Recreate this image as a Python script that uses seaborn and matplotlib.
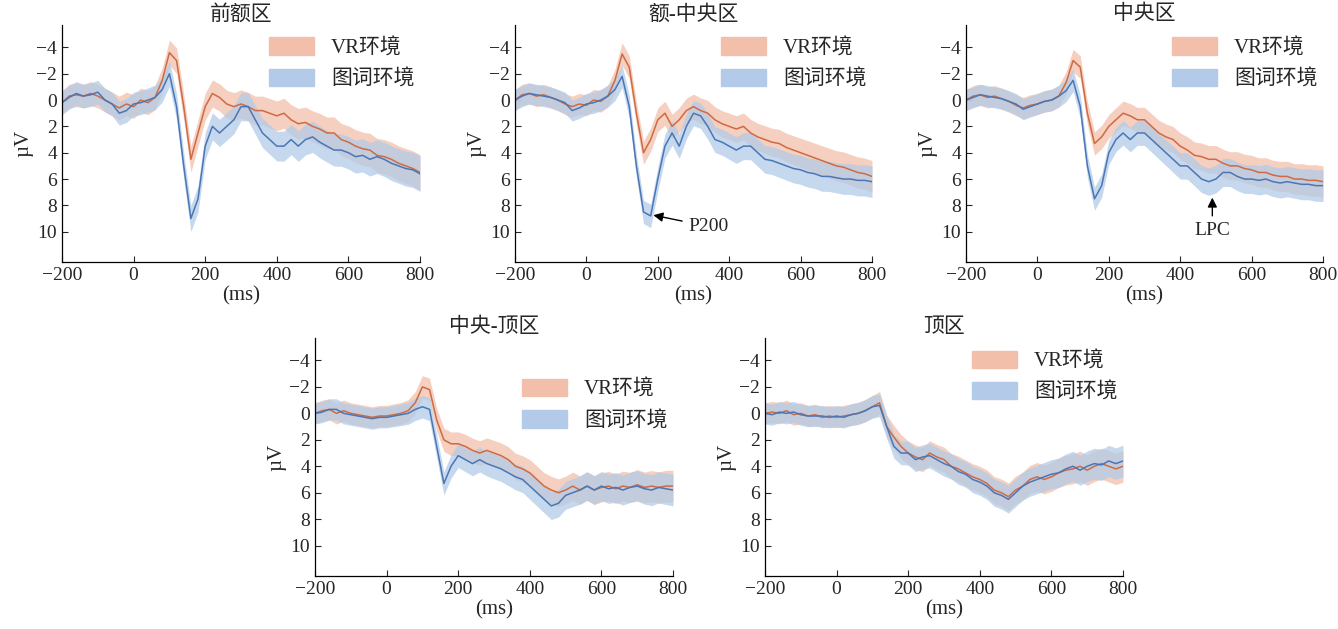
import matplotlib.pyplot as plt
import seaborn as sns
import numpy as np
import pandas as pd
from matplotlib.patches import Patch

sns.set_style("white")
plt.rcParams['font.family'] = ['Liberation Serif', 'Noto Sans CJK SC']
plt.rcParams['axes.unicode_minus'] = True

# time points (ms), every 20 ms
time_ms = list(range(-200, 801, 20))

# amplitudes in µV
fz_vr = [0.2, -0.3, -0.4, -0.3, -0.5, -0.3, 0.0, 0.3, 0.6, 0.3, 0.5, 0.0, 0.2, -0.2, -1.5, -3.6, -3.0, 0.5, 4.5, 2.5,
         0.5, -0.5, -0.2, 0.3, 0.5, 0.3, 0.5, 0.8, 0.8, 1.0, 1.2, 1.0, 1.5, 1.8, 1.7, 2.0, 2.2, 2.5, 2.5, 3.0,
         3.2, 3.5, 3.7, 3.8, 4.2, 4.3, 4.5, 4.8, 5.0, 5.2, 5.5]
fz_word = [0.2, -0.2, -0.5, -0.3, -0.4, -0.6, 0.0, 0.3, 1.0, 0.8, 0.3, 0.2, 0.0, -0.2, -0.8, -2.0, 0.5, 5.0, 9.0, 7.5,
           3.5, 2.0, 2.5, 2.0, 1.5, 0.5, 0.5, 1.5, 2.5, 3.0, 3.5, 3.5, 3.0, 3.5, 3.0, 2.8, 3.2, 3.5, 3.8, 3.8,
           4.0, 4.3, 4.2, 4.5, 4.3, 4.5, 4.8, 5.0, 5.2, 5.3, 5.6]
fcz_vr = [0.0, -0.4, -0.5, -0.3, -0.4, -0.2, 0.0, 0.3, 0.5, 0.3, 0.4, 0.0, 0.1, -0.3, -1.5, -3.5, -2.5, 1.0, 4.0, 3.0,
          1.5, 1.0, 2.0, 1.5, 0.8, 0.5, 0.8, 1.0, 1.5, 1.8, 2.0, 2.2, 2.0, 2.5, 2.8, 3.0, 3.2, 3.3, 3.6, 3.8,
          4.0, 4.2, 4.4, 4.6, 4.8, 5.0, 5.1, 5.3, 5.5, 5.6, 5.8]
fcz_word = [0.0, -0.3, -0.5, -0.4, -0.3, -0.2, 0.0, 0.2, 0.8, 0.6, 0.3, 0.2, 0.0, -0.3, -0.8, -1.8, 0.5, 5.0, 8.5, 8.8,
            6.0, 3.5, 2.5, 3.5, 2.0, 1.0, 1.2, 2.0, 3.0, 3.2, 3.5, 3.8, 3.5, 3.5, 4.0, 4.5, 4.6, 4.8, 5.0, 5.2,
            5.3, 5.5, 5.6, 5.8, 5.8, 5.9, 6.0, 6.0, 6.1, 6.1, 6.2]
cz_vr = [0.0, -0.3, -0.4, -0.2, -0.3, -0.1, 0.1, 0.4, 0.6, 0.4, 0.3, 0.1, 0.0, -0.3, -1.3, -3.0, -2.5, 1.0, 3.3, 2.8,
         2.0, 1.5, 1.0, 1.2, 1.5, 1.5, 2.0, 2.5, 2.8, 3.0, 3.5, 3.8, 4.2, 4.3, 4.5, 4.5, 4.8, 5.0, 5.0, 5.2,
         5.3, 5.5, 5.5, 5.7, 5.8, 5.8, 6.0, 6.0, 6.1, 6.1, 6.2]
cz_word = [0.0, -0.2, -0.4, -0.3, -0.2, -0.1, 0.1, 0.3, 0.7, 0.5, 0.3, 0.1, 0.0, -0.3, -0.7, -1.5, 0.5, 5.0, 7.5, 6.5,
           4.0, 3.0, 2.5, 3.0, 2.5, 2.5, 3.0, 3.5, 4.0, 4.5, 5.0, 5.0, 5.5, 6.0, 6.2, 6.0, 5.5, 5.5, 5.8, 6.0,
           6.0, 6.1, 6.0, 6.2, 6.3, 6.2, 6.3, 6.4, 6.4, 6.5, 6.5]
cpz_vr = [0.0, -0.2, -0.3, 0.0, -0.2, 0.0, 0.1, 0.2, 0.3, 0.2, 0.2, 0.1, 0.0, -0.2, -0.8, -2.0, -1.8, 0.5, 2.0, 2.3,
          2.3, 2.5, 2.8, 3.0, 2.8, 3.0, 3.2, 3.5, 4.0, 4.2, 4.5, 5.0, 5.5, 5.8, 6.0, 5.8, 5.5, 5.8, 5.5, 5.8,
          5.6, 5.5, 5.7, 5.5, 5.6, 5.4, 5.6, 5.5, 5.6, 5.5, 5.5]
cpz_word = [0.0, -0.1, -0.3, -0.3, 0.0, 0.1, 0.2, 0.3, 0.4, 0.3, 0.3, 0.2, 0.1, 0.0, -0.3, -0.5, -0.3, 2.5, 5.3, 4.0,
            3.2, 3.5, 3.8, 3.5, 3.8, 4.0, 4.2, 4.5, 4.8, 5.0, 5.5, 6.0, 6.5, 7.0, 6.8, 6.2, 6.0, 5.8, 5.5, 5.8,
            5.5, 5.7, 5.6, 5.8, 5.6, 5.5, 5.7, 5.8, 5.6, 5.7, 5.8]
pz_vr = [0.0, -0.1, 0.0, -0.2, 0.1, 0.0, 0.2, 0.1, 0.3, 0.2, 0.3, 0.2, 0.1, 0.0, -0.2, -0.5, -0.8, 1.0, 1.8, 2.5,
         3.0, 3.3, 3.5, 3.0, 3.3, 3.5, 4.0, 4.2, 4.5, 4.8, 5.0, 5.3, 5.8, 6.0, 6.3, 5.8, 5.5, 5.0, 4.8, 5.0,
         4.8, 4.5, 4.3, 4.2, 4.0, 4.3, 4.0, 3.8, 4.0, 4.2, 4.0]
pz_word = [0.0, 0.1, -0.1, 0.0, -0.1, 0.1, 0.2, 0.2, 0.2, 0.3, 0.2, 0.3, 0.1, 0.0, -0.2, -0.5, -0.6, 1.0, 2.5, 3.0,
           3.0, 3.5, 3.3, 3.2, 3.5, 3.8, 4.0, 4.4, 4.6, 5.0, 5.2, 5.5, 6.0, 6.2, 6.5, 6.0, 5.5, 5.2, 5.0, 4.8,
           4.6, 4.5, 4.2, 4.0, 4.3, 4.0, 3.8, 3.9, 3.6, 3.8, 3.6]

panel_titles = ["前额区", "额-中央区", "中央区", "中央-顶区", "顶区"]
panel_vr = [fz_vr, fcz_vr, cz_vr, cpz_vr, pz_vr]
panel_word = [fz_word, fcz_word, cz_word, cpz_word, pz_word]
band_halfwidth = [0.9, 0.8, 0.8, 0.8, 0.8]
legend_names = ["VR环境", "图词环境"]

red_line, red_band = "#cf6a43", "#f2c0aa"
blue_line, blue_band = "#4a76b6", "#b3cbe8"

W, H = 1338, 629
fig = plt.figure(figsize=(W / 100, H / 100), dpi=100)
# axes boxes in pixels: left, top, right, bottom
boxes = [(62, 25, 420, 262), (515, 25, 872, 262), (966, 25, 1323, 262),
         (315, 338, 673, 576), (765, 338, 1123, 576)]
legend_anchor = [(1.02, 1.0), (1.02, 1.0), (1.02, 1.0), (1.02, 0.88), (1.02, 1.0)]

for i, (l, t, r, b) in enumerate(boxes):
    ax = fig.add_axes([l / W, 1 - b / H, (r - l) / W, (b - t) / H])
    df = pd.DataFrame({"t": time_ms, "vr": panel_vr[i], "word": panel_word[i]})
    for col, lc, bc in [("vr", red_line, red_band), ("word", blue_line, blue_band)]:
        hw = band_halfwidth[i] * (1 + np.array(time_ms).clip(0) / 1600)
        ax.fill_between(df["t"], df[col] - hw, df[col] + hw, color=bc, alpha=0.75, lw=0)
        sns.lineplot(data=df, x="t", y=col, ax=ax, color=lc, lw=1.1)
    ax.set_xlim(-200, 800)
    ax.set_ylim(12.3, -5.7)
    ax.set_xticks(range(-200, 801, 200))
    ax.set_yticks(range(-4, 11, 2))
    ax.set_xticklabels(["\u2212200", "0", "200", "400", "600", "800"])
    ax.set_yticklabels(["\u22124", "\u22122", "0", "2", "4", "6", "8", "10"])
    ax.tick_params(labelsize=14, direction="in", length=4, left=True, bottom=True)
    ax.set_xlabel("(ms)", fontsize=15, labelpad=2)
    ax.set_ylabel("µV", fontsize=15, labelpad=2)
    ax.set_title(panel_titles[i], fontsize=15, pad=4)
    sns.despine(ax=ax)
    for s in ["left", "bottom"]:
        ax.spines[s].set_color("black")
        ax.spines[s].set_linewidth(0.9)
    handles = [Patch(color=red_band), Patch(color=blue_band)]
    ax.legend(handles, legend_names, loc="upper right", bbox_to_anchor=legend_anchor[i],
              frameon=False, fontsize=15, handlelength=2.2, handleheight=0.9, borderaxespad=0.2)
    if i == 1:
        ax.annotate("P200", xy=(180, 8.7), xytext=(285, 9.6), fontsize=14, va="center",
                    arrowprops=dict(arrowstyle="-|>", color="black", lw=1))
    if i == 2:
        ax.annotate("LPC", xy=(490, 7.2), xytext=(490, 9.9), fontsize=14, ha="center", va="center",
                    arrowprops=dict(arrowstyle="-|>", color="black", lw=1))

fig.savefig("out.png", dpi=100)
